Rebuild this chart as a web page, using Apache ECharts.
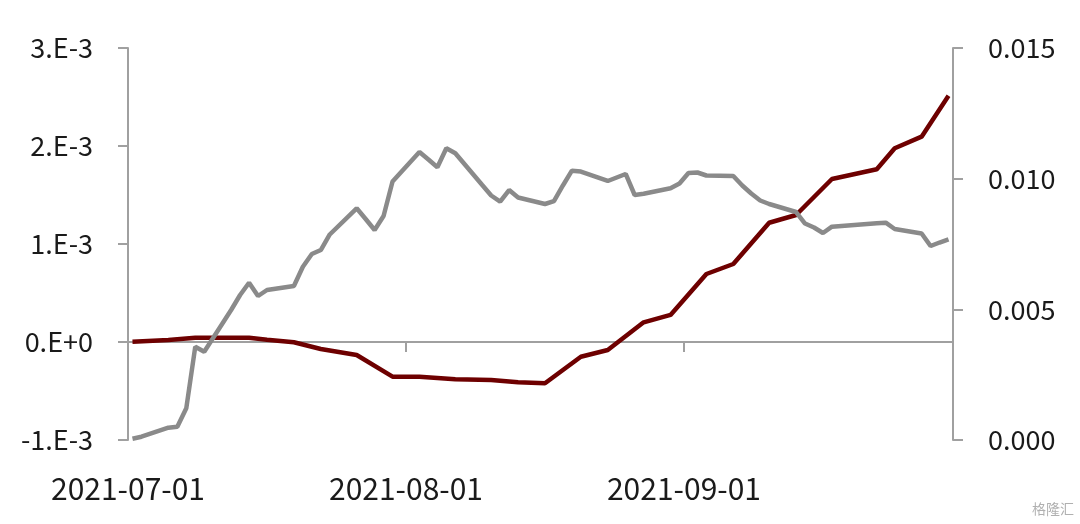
<!DOCTYPE html>
<html>
<head>
<meta charset="utf-8">
<script src="https://cdn.jsdelivr.net/npm/echarts@6/dist/echarts.min.js"></script>
<style>
html,body{margin:0;padding:0;background:#fff;}
#chart{width:1080px;height:524px;}
</style>
</head>
<body>
<div id="chart"></div>
<script>
// gray series (right axis)
const grayDates = [
 '2021-07-01','2021-07-02','2021-07-05','2021-07-06','2021-07-07','2021-07-08','2021-07-09',
 '2021-07-12','2021-07-13','2021-07-14','2021-07-15','2021-07-16','2021-07-19','2021-07-20',
 '2021-07-21','2021-07-22','2021-07-23','2021-07-26','2021-07-27','2021-07-28','2021-07-29',
 '2021-07-30','2021-08-02','2021-08-03','2021-08-04','2021-08-05','2021-08-06','2021-08-09',
 '2021-08-10','2021-08-11','2021-08-12','2021-08-13','2021-08-16','2021-08-17','2021-08-18',
 '2021-08-19','2021-08-20','2021-08-23','2021-08-24','2021-08-25','2021-08-26','2021-08-27',
 '2021-08-30','2021-08-31','2021-09-01','2021-09-02','2021-09-03','2021-09-06','2021-09-07',
 '2021-09-08','2021-09-09','2021-09-10','2021-09-13','2021-09-14','2021-09-15','2021-09-16',
 '2021-09-17','2021-09-22','2021-09-23','2021-09-24','2021-09-27','2021-09-28','2021-09-29',
 '2021-09-30'
];
const grayValues = [
 0.00005,0.000126,0.000471,0.000509,0.001213,0.00357,0.003379,
 0.004974,0.005548,0.006019,0.00551,0.00574,0.005893,0.006631,
 0.007117,0.00727,0.007864,0.008866,0.008457,0.008036,0.008571,
 0.009892,0.01102,0.010733,0.010435,0.011162,0.010971,0.009758,
 0.009356,0.009119,0.009566,0.00928,0.009031,0.009145,0.009739,
 0.010305,0.010274,0.009911,0.010045,0.010179,0.009375,0.009421,
 0.009631,0.009815,0.010217,0.010236,0.010121,0.010102,0.009739,
 0.009432,0.009165,0.009031,0.008724,0.008284,0.008131,0.007921,
 0.008162,0.008292,0.008315,0.008074,0.007902,0.007423,0.007557,
 0.00768
];
// dark red series (left axis)
const redDates = [
 '2021-07-01','2021-07-05','2021-07-08','2021-07-14','2021-07-16','2021-07-19','2021-07-22',
 '2021-07-26','2021-07-30','2021-08-02','2021-08-06','2021-08-10','2021-08-13','2021-08-16',
 '2021-08-20','2021-08-23','2021-08-27','2021-08-30','2021-09-03','2021-09-06','2021-09-10',
 '2021-09-13','2021-09-17','2021-09-22','2021-09-24','2021-09-27','2021-09-30'
];
const redValues = [
 0.000003,0.0000204,0.0000439,0.0000439,0.0000224,-0.000003,-0.0000714,
 -0.000133,-0.000354,-0.000354,-0.000379,-0.000388,-0.000411,-0.000421,
 -0.00015,-0.0000816,0.000201,0.000276,0.000694,0.000796,0.001217,
 0.001296,0.001663,0.001762,0.001977,0.002095,0.002513
];
const xTickLabels = ['2021-07-01','2021-08-01','2021-09-01'];
const leftTickLabels = ['-1.E-3','0.E+0','1.E-3','2.E-3','3.E-3'];
const rightTickLabels = ['0.000','0.005','0.010','0.015'];

const DAY = 86400000;
function toMs(s){const p=s.split('-').map(Number);return Date.UTC(p[0],p[1]-1,p[2]);}
const xMin = Date.UTC(2021,5,30,12);
const xMax = Date.UTC(2021,8,30,12);
const xInterval = 31*DAY;

const FONT = '"Noto Sans CJK SC","Noto Sans",sans-serif';
const axisColor = '#a0a0a0';

const chart = echarts.init(document.getElementById('chart'));
chart.setOption({
  animation:false,
  backgroundColor:'#ffffff',
  textStyle:{fontFamily:FONT},
  grid:{left:128,right:127,top:48,bottom:84,containLabel:false},
  xAxis:[
    {type:'value',min:xMin,max:xMax,interval:xInterval,
     axisLine:{show:true,onZero:true,onZeroAxisIndex:0,lineStyle:{color:axisColor,width:2}},
     axisTick:{show:true,length:10,lineStyle:{color:axisColor,width:2}},
     axisLabel:{show:false},splitLine:{show:false}},
    {type:'value',min:xMin,max:xMax,interval:xInterval,position:'bottom',
     axisLine:{show:false,onZero:false},axisTick:{show:false},splitLine:{show:false},
     axisLabel:{show:true,margin:34,fontSize:30,color:'#1a1a1a',fontFamily:FONT,
       formatter:function(v){const i=Math.round((v-xMin)/xInterval);return xTickLabels[i]||'';}}}
  ],
  yAxis:[
    {type:'value',min:-0.001,max:0.003,interval:0.001,position:'left',
     axisLine:{show:true,onZero:false,lineStyle:{color:axisColor,width:2}},
     axisTick:{show:true,length:10,lineStyle:{color:axisColor,width:2}},
     splitLine:{show:false},
     axisLabel:{margin:35,fontSize:27,color:'#1a1a1a',fontFamily:FONT,
       formatter:function(v){const i=Math.round((v+0.001)/0.001);return leftTickLabels[i]||'';}}},
    {type:'value',min:0,max:0.015,interval:0.005,position:'right',
     axisLine:{show:true,onZero:false,lineStyle:{color:axisColor,width:2}},
     axisTick:{show:true,length:10,lineStyle:{color:axisColor,width:2}},
     splitLine:{show:false},
     axisLabel:{margin:35,fontSize:27,color:'#1a1a1a',fontFamily:FONT,
       formatter:function(v){const i=Math.round(v/0.005);return rightTickLabels[i]||'';}}}
  ],
  graphic:[
    {type:'text',right:6,bottom:8,style:{text:'格隆汇',fontSize:14,fill:'#b0b0b0',fontFamily:FONT}}
  ],
  series:[
    {type:'line',name:'red',xAxisIndex:0,yAxisIndex:0,showSymbol:false,symbol:'none',
     lineStyle:{color:'#6e0000',width:4.5},
     data:redDates.map((d,i)=>[toMs(d),redValues[i]])},
    {type:'line',name:'gray',xAxisIndex:0,yAxisIndex:1,showSymbol:false,symbol:'none',
     lineStyle:{color:'#8a8a8a',width:4.5},
     data:grayDates.map((d,i)=>[toMs(d),grayValues[i]])}
  ]
});
</script>
</body>
</html>
